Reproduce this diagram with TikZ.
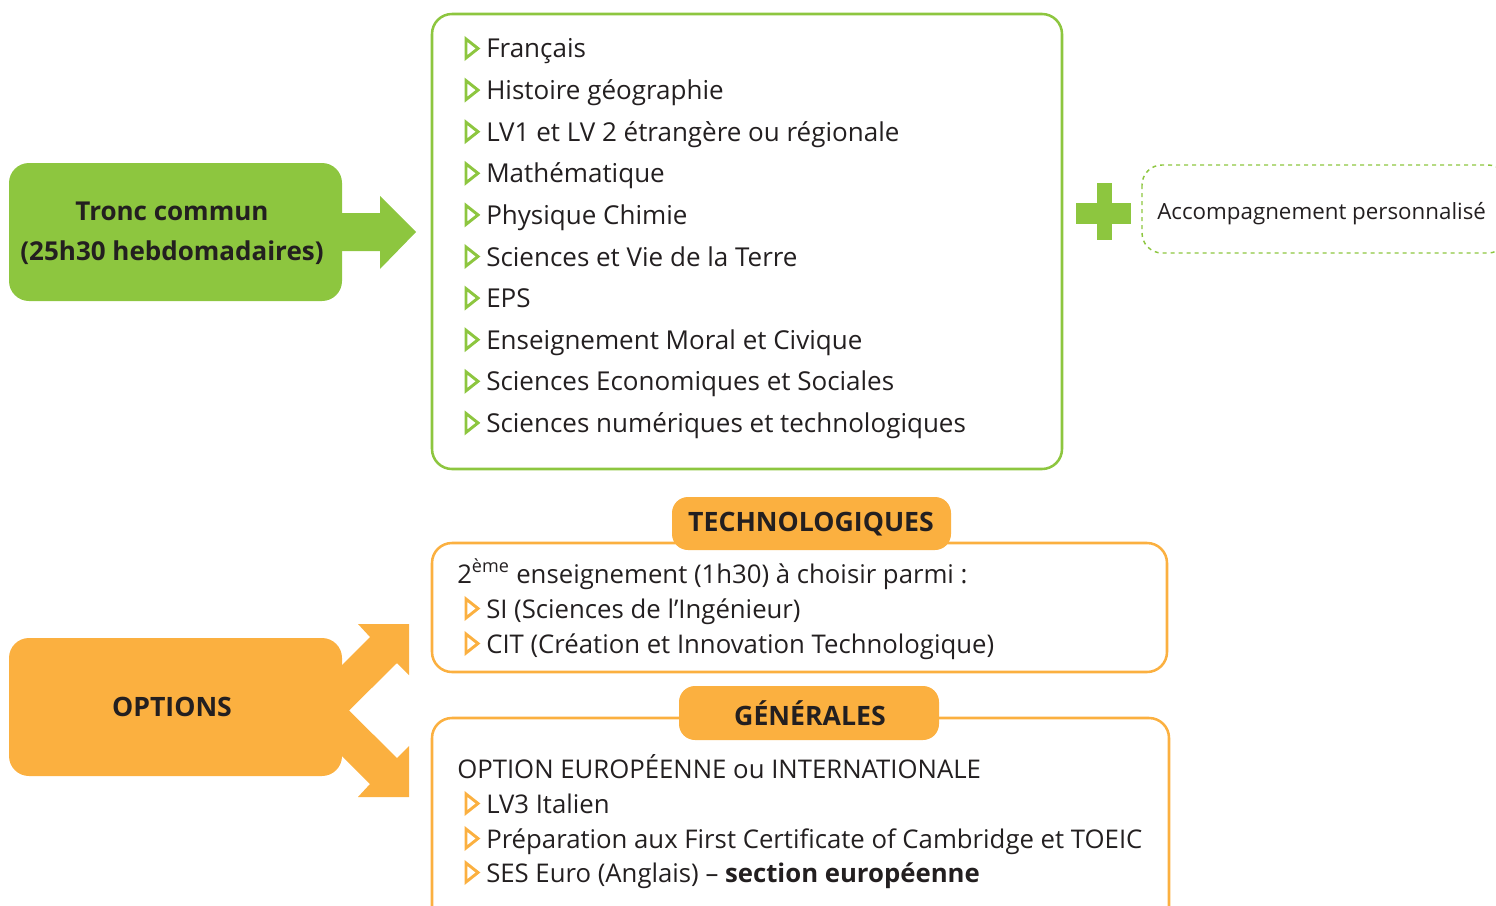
\documentclass[tikz,border=0pt]{standalone}
\usepackage{fontspec}
\setmainfont{Open Sans}
\definecolor{vert}{HTML}{8DC63F}
\definecolor{orange}{HTML}{FBB040}
\definecolor{encre}{HTML}{231F20}
\tikzset{
  txt/.style={anchor=base west, inner sep=0pt, text=encre, font=\fontsize{19.5}{22}\selectfont},
  txtb/.style={txt, font=\fontsize{19.3}{22}\selectfont},
  head/.style={anchor=center, inner sep=0pt, text=encre, font=\bfseries\fontsize{20}{22}\selectfont},
  headt/.style={head, font=\bfseries\fontsize{19.5}{22}\selectfont},
  gbox/.style={draw=vert, line width=1.9pt, rounded corners=15pt},
  obox/.style={draw=orange, line width=1.9pt, rounded corners=15pt},
  gtri/.style={draw=vert, line width=2.2pt, line join=miter},
  otri/.style={draw=orange, line width=2.2pt, line join=miter},
}
\newcommand{\tri}[2]{\draw[#1] (466,#2-19) -- (478,#2-9.5) -- (466,#2) -- cycle;}
\begin{document}
\begin{tikzpicture}[x=0.75pt,y=-0.75pt]
\useasboundingbox (0,0) rectangle (1496,906);
\clip (0,0) rectangle (1496,906);
% Tronc commun
\fill[vert, rounded corners=15pt] (9,163) rectangle (342,301);
\fill[vert] (330,213) -- (380,213) -- (380,196) -- (416,232) -- (380,269) -- (380,251) -- (330,251) -- cycle;
\node[headt] (tc1) at (172,211) {Tronc commun};
\node[headt] (tc2) at (172,253) {(25h30 hebdomadaires)};
% list box
\draw[gbox] (432,14) rectangle (1062,469);
\foreach \t [count=\i from 0] in {Français,Histoire géographie,LV1 et LV 2 étrangère ou régionale,Mathématique,Physique Chimie,Sciences et Vie de la Terre,EPS,Enseignement Moral et Civique,Sciences Economiques et Sociales,Sciences numériques et technologiques}{
  \pgfmathsetmacro{\yy}{58+41.6*\i}
  \tri{gtri}{\yy}
  \node[txt] (l\i) at (486,\yy) {\t};
}
% plus
\fill[vert] (1076,203) rectangle (1131,224);
\fill[vert] (1097,183) rectangle (1112,240);
% accompagnement
\draw[vert, line width=1.1pt, dash pattern=on 3pt off 3pt, rounded corners=15pt] (1142,165) rectangle (1508,253);
\node[anchor=base west, inner sep=0pt, text=encre, font=\fontsize{16.75}{20}\selectfont] (ap) at (1157,219) {Accompagnement personnalisé};
% OPTIONS
\fill[orange, rounded corners=15pt] (9,638) rectangle (342,776);
\fill[orange] (330,665) -- (342,665) -- (370,637) -- (358,624) -- (409,624) -- (409,675) -- (397,663) -- (349,710.5) -- (397,758) -- (409,746) -- (409,797) -- (358,797) -- (370,784) -- (342,756) -- (330,756) -- cycle;
\node[head] (op) at (172,707) {OPTIONS};
% technologiques
\draw[obox] (432,543) rectangle (1167,672);
\fill[orange, rounded corners=12pt] (672,497) rectangle (951,550);
\node[head] (tech) at (811,524) {TECHNOLOGIQUES};
\node[txtb] (t0) at (457,583) {2\textsuperscript{ème} enseignement (1h30) à choisir parmi :};
\tri{otri}{618}
\node[txtb] (t1) at (486,618) {SI (Sciences de l’Ingénieur)};
\tri{otri}{653}
\node[txtb] (t2) at (486,653) {CIT (Création et Innovation Technologique)};
% generales
\draw[obox] (432,718) rectangle (1169,930);
\fill[orange, rounded corners=12pt] (679,686) rectangle (939,740);
\node[head] (gen) at (810,713) {GÉNÉRALES};
\node[txtb] (g0) at (457,778) {OPTION EUROPÉENNE ou INTERNATIONALE};
\tri{otri}{813}
\node[txtb] (g1) at (486,813) {LV3 Italien};
\tri{otri}{848}
\node[txtb] (g2) at (486,848) {Préparation aux First Certificate of Cambridge et TOEIC};
\tri{otri}{882}
\node[txtb] (g3) at (486,882) {SES Euro (Anglais) – \textbf{section européenne}};
\end{tikzpicture}
\end{document}
